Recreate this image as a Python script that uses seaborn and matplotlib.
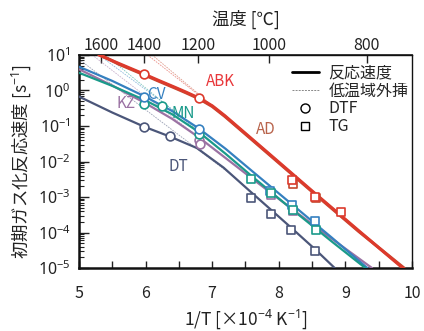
import numpy as np
import pandas as pd
import matplotlib
matplotlib.use("Agg")
import matplotlib.pyplot as plt
from matplotlib.lines import Line2D
from matplotlib.ticker import FixedLocator, FixedFormatter, LogLocator, NullFormatter
import seaborn as sns

# ---- data: 1/T [1e-4 K^-1] and log10 of initial gasification rate [s^-1] ----
abk_x = [5.30, 5.60, 5.98, 6.20, 6.44, 6.60, 6.80, 7.00, 7.19, 7.50, 7.89, 8.55, 9.20, 9.86]
abk_logk = [1.00, 0.76, 0.46, 0.28, 0.09, -0.04, -0.21, -0.43, -0.71, -1.21, -1.84, -2.91, -3.95, -5.00]
ad_x = [5.32, 5.60, 5.98, 6.20, 6.44, 6.60, 6.80, 7.00, 7.19, 7.50, 7.89, 8.55, 9.20, 9.88]
ad_logk = [1.00, 0.74, 0.44, 0.26, 0.07, -0.06, -0.23, -0.45, -0.73, -1.23, -1.86, -2.93, -3.97, -5.00]
cv_x = [5.00, 5.50, 5.98, 6.40, 6.80, 7.20, 7.60, 8.20, 8.80, 9.33]
cv_logk = [0.67, 0.27, -0.16, -0.58, -1.07, -1.64, -2.27, -3.21, -4.15, -5.00]
mn_x = [5.00, 5.50, 6.00, 6.40, 6.80, 7.20, 7.60, 8.20, 8.80, 9.30]
mn_logk = [0.50, 0.13, -0.28, -0.67, -1.17, -1.78, -2.42, -3.35, -4.26, -5.00]
kz_x = [5.00, 5.50, 6.00, 6.40, 6.80, 7.20, 7.60, 8.20, 8.80, 9.40]
kz_logk = [0.60, 0.14, -0.36, -0.80, -1.32, -1.90, -2.48, -3.34, -4.18, -5.00]
dt_x = [5.00, 5.50, 5.98, 6.37, 6.77, 7.17, 7.57, 7.89, 8.19, 8.55, 8.84]
dt_logk = [-0.17, -0.62, -1.02, -1.30, -1.62, -2.17, -2.84, -3.37, -3.87, -4.48, -5.00]

# low-temperature Arrhenius lines extrapolated to high temperature
abk_ext_x, abk_ext_logk = [6.03, 7.20], [1.00, -0.72]
ad_ext_x, ad_ext_logk = [6.10, 7.20], [1.00, -0.74]
cv_ext_x, cv_ext_logk = [5.30, 7.20], [1.00, -1.64]
mn_ext_x, mn_ext_logk = [5.40, 7.20], [1.00, -1.78]
kz_ext_x, kz_ext_logk = [5.20, 7.20], [1.00, -1.90]
dt_ext_x, dt_ext_logk = [5.00, 7.30], [0.88, -2.39]

# drop-tube furnace (DTF) measurements
abk_dtf_x, abk_dtf_logk = [5.98, 6.80], [0.45, -0.21]
cv_dtf_x, cv_dtf_logk = [5.98, 6.80], [-0.17, -1.08]
mn_dtf_x, mn_dtf_logk = [5.98, 6.25, 6.80], [-0.39, -0.45, -1.23]
kz_dtf_x, kz_dtf_logk = [6.80, 6.81], [-1.40, -1.52]
dt_dtf_x, dt_dtf_logk = [5.98, 6.37], [-1.04, -1.28]

# thermogravimetry (TG) measurements
abk_tg_x, abk_tg_logk = [8.20, 8.55, 8.94], [-2.52, -2.99, -3.41]
ad_tg_x, ad_tg_logk = [8.22, 8.56], [-2.62, -3.02]
cv_tg_x, cv_tg_logk = [7.87, 8.20, 8.54], [-2.82, -3.23, -3.67]
mn_tg_x, mn_tg_logk = [7.59, 7.89, 8.21, 8.56], [-2.50, -2.88, -3.36, -3.93]
kz_tg_x, kz_tg_logk = [7.89, 8.21], [-2.93, -3.40]
dt_tg_x, dt_tg_logk = [7.59, 7.89, 8.19, 8.55], [-3.04, -3.48, -3.93, -4.52]

coal_names = ["ABK", "AD", "CV", "MN", "KZ", "DT"]
label_x = [7.12, 7.81, 6.17, 6.56, 5.71, 6.50]
label_logk = [0.24, -1.11, -0.10, -0.66, -0.38, -2.15]

temp_ticks_c = [1600, 1400, 1200, 1000, 800]
x_ticks = [5, 5.5, 6, 6.5, 7, 7.5, 8, 8.5, 9, 9.5, 10]
x_ticklabels = ["5", "", "6", "", "7", "", "8", "", "9", "", "10"]
y_major_exp = [-5, -4, -3, -2, -1, 0, 1]

# ---- styling ----
sns.set_theme(style="ticks")
plt.rcParams["font.family"] = ["Noto Sans CJK JP", "DejaVu Sans"]
plt.rcParams["mathtext.fontset"] = "custom"
plt.rcParams["mathtext.rm"] = "Noto Sans"
plt.rcParams["mathtext.it"] = "Noto Sans:italic"
plt.rcParams["mathtext.bf"] = "Noto Sans:bold"

colors = {
    "ABK": "#dc3a2c",
    "AD": "#c5492f",
    "CV": "#3580c0",
    "MN": "#1a9a8a",
    "KZ": "#9b72a3",
    "DT": "#4b5679",
}
label_colors = {
    "ABK": "#e8373a",
    "AD": "#b8634b",
    "CV": "#3580c0",
    "MN": "#1a9a8a",
    "KZ": "#9b72a3",
    "DT": "#4b5679",
}

curves = {
    "AD": (ad_x, ad_logk), "ABK": (abk_x, abk_logk),
    "KZ": (kz_x, kz_logk), "CV": (cv_x, cv_logk),
    "MN": (mn_x, mn_logk), "DT": (dt_x, dt_logk),
}
extrap = {
    "ABK": (abk_ext_x, abk_ext_logk), "AD": (ad_ext_x, ad_ext_logk),
    "CV": (cv_ext_x, cv_ext_logk), "MN": (mn_ext_x, mn_ext_logk),
    "KZ": (kz_ext_x, kz_ext_logk), "DT": (dt_ext_x, dt_ext_logk),
}
dtf = {
    "KZ": (kz_dtf_x, kz_dtf_logk), "DT": (dt_dtf_x, dt_dtf_logk),
    "MN": (mn_dtf_x, mn_dtf_logk), "CV": (cv_dtf_x, cv_dtf_logk),
    "ABK": (abk_dtf_x, abk_dtf_logk),
}
tg = {
    "AD": (ad_tg_x, ad_tg_logk), "ABK": (abk_tg_x, abk_tg_logk),
    "KZ": (kz_tg_x, kz_tg_logk), "DT": (dt_tg_x, dt_tg_logk),
    "CV": (cv_tg_x, cv_tg_logk), "MN": (mn_tg_x, mn_tg_logk),
}


def frame(x, logk):
    return pd.DataFrame({"inv_t": x, "rate": np.power(10.0, logk)})


fig = plt.figure(figsize=(4.24, 3.31), dpi=100)
ax = fig.add_axes([0.186, 0.190, 0.786, 0.644])

for name, (x, lk) in extrap.items():
    sns.lineplot(data=frame(x, lk), x="inv_t", y="rate", ax=ax, color=colors[name],
                 lw=0.6, alpha=0.55, linestyle=(0, (2.0, 1.2)),
                 estimator=None, sort=False, zorder=2)

for name, (x, lk) in curves.items():
    red = name in ("ABK", "AD")
    sns.lineplot(data=frame(x, lk), x="inv_t", y="rate", ax=ax, color=colors[name],
                 lw=2.2 if red else 1.6, estimator=None, sort=False, zorder=3)

for name, (x, lk) in dtf.items():
    sns.scatterplot(data=frame(x, lk), x="inv_t", y="rate", ax=ax, marker="o", s=40,
                    color="white", edgecolor=colors[name], linewidth=1.2, zorder=5)
for name, (x, lk) in tg.items():
    sns.scatterplot(data=frame(x, lk), x="inv_t", y="rate", ax=ax, marker="s", s=36,
                    color="white", edgecolor=colors[name], linewidth=1.2, zorder=5)

for name, lx, ly in zip(coal_names, label_x, label_logk):
    ax.text(lx, 10.0 ** ly, name, color=label_colors[name], fontsize=11,
            ha="center", va="center", zorder=6)

ax.set_yscale("log")
ax.set_xlim(5, 10)
ax.set_ylim(1e-5, 1e1)
ax.set_xticks(x_ticks)
ax.set_xticklabels(x_ticklabels)

ax.yaxis.set_major_locator(FixedLocator([10.0 ** e for e in y_major_exp]))
ax.yaxis.set_major_formatter(FixedFormatter([f"$10^{{{e}}}$" for e in y_major_exp]))
ax.yaxis.set_minor_locator(LogLocator(base=10, subs=np.arange(2, 10), numticks=20))
ax.yaxis.set_minor_formatter(NullFormatter())

ax.tick_params(axis="x", which="major", direction="in", length=5, width=1.0,
               labelsize=11.5, pad=12, colors="#222222", top=False)
ax.tick_params(axis="y", which="major", direction="in", length=7, width=1.0,
               labelsize=11.5, pad=6, colors="#222222", right=False)
ax.tick_params(axis="y", which="minor", direction="in", length=3.5, width=0.8,
               colors="#222222", right=False)
for s in ("left", "bottom"):
    ax.spines[s].set_linewidth(1.8)
for s in ("top", "right"):
    ax.spines[s].set_linewidth(1.0)
for s in ax.spines.values():
    s.set_color("#111111")

ax.set_xlabel("1/T [×10$^{-4}$ K$^{-1}$]", fontsize=12.5, labelpad=4, color="#222222")
ax.set_ylabel("初期ガス化反応速度 [s$^{-1}$]", fontsize=12.5, labelpad=3, color="#222222")


def inv_to_c(x):
    x = np.asarray(x, dtype=float)
    with np.errstate(divide="ignore", invalid="ignore"):
        return 1e4 / x - 273.15


def c_to_inv(c):
    c = np.asarray(c, dtype=float)
    with np.errstate(divide="ignore", invalid="ignore"):
        return 1e4 / (c + 273.15)


top = ax.secondary_xaxis("top", functions=(inv_to_c, c_to_inv))
top.set_xticks(temp_ticks_c)
top.set_xticklabels([str(t) for t in temp_ticks_c])
top.tick_params(direction="in", length=6, width=1.0, labelsize=11.5, pad=0.5, colors="#222222")
top.xaxis.set_minor_locator(FixedLocator([]))
top.set_xlabel("温度 [℃]", fontsize=12.5, labelpad=9, color="#222222")

handles = [
    Line2D([], [], color="black", lw=2.0),
    Line2D([], [], color="#888888", lw=0.7, linestyle=(0, (2.0, 1.2))),
    Line2D([], [], color="black", marker="o", markersize=6.5, markerfacecolor="white",
           markeredgewidth=1.0, linestyle="none"),
    Line2D([], [], color="black", marker="s", markersize=6, markerfacecolor="white",
           markeredgewidth=1.0, linestyle="none"),
]
ax.legend(handles, ["反応速度", "低温域外挿", "DTF", "TG"], loc="upper right",
          bbox_to_anchor=(1.018, 1.0), frameon=False, fontsize=11.5, handlelength=1.7,
          handletextpad=0.6, labelspacing=0.06, borderaxespad=0.2)

fig.savefig("out.png", dpi=100)
